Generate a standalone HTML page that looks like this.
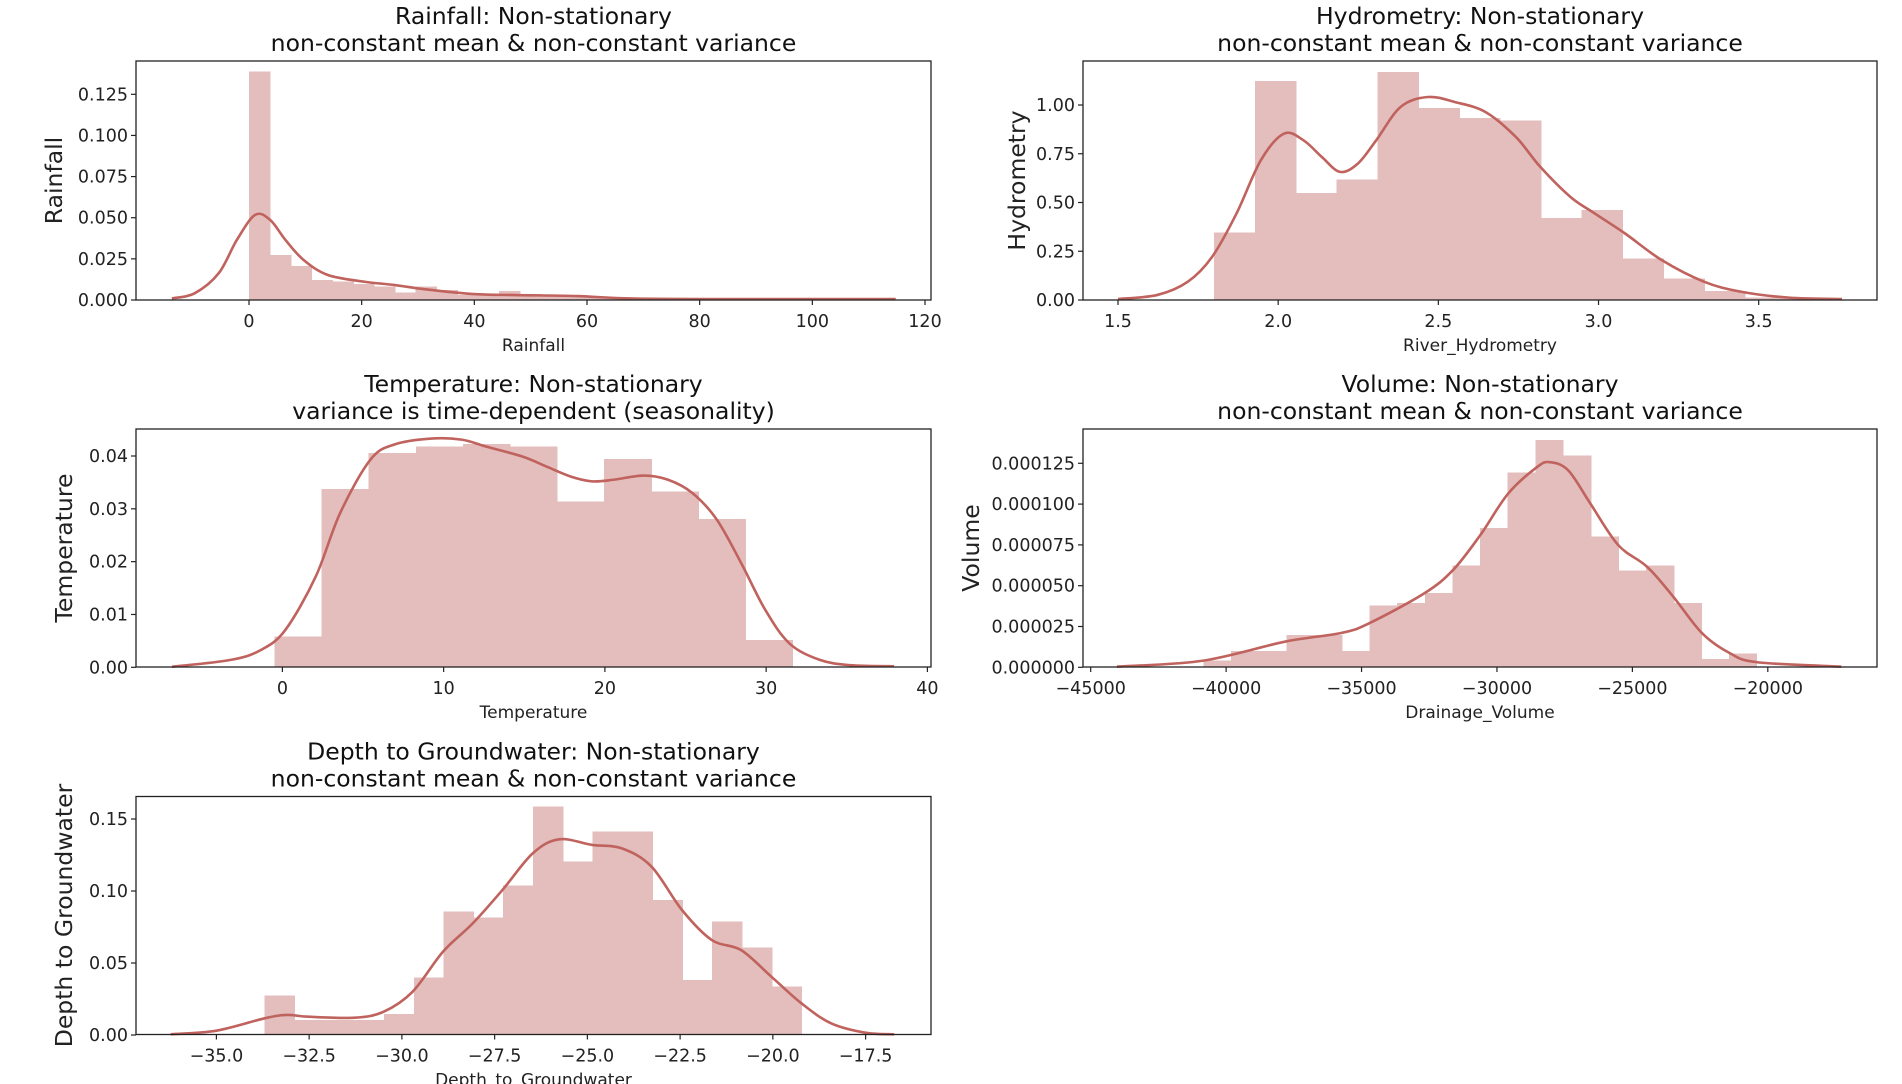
<!DOCTYPE html>
<html><head><meta charset="utf-8"><style>
html,body{margin:0;padding:0;background:#fff;}
svg{display:block;font-family:"DejaVu Sans","Liberation Sans",sans-serif;}
</style></head><body>
<svg id="fig" width="1902" height="1084" viewBox="0 0 1902 1084"></svg>
<script>
// ---- Rainfall ----
const rainBinStart = 0, rainBinWidth = 3.7;
const rainHist = [0.1388,0.0274,0.0207,0.0122,0.0111,0.0097,0.0081,0.0047,0.0081,0.006,0.003,0.004,0.0055,0.0036,0.003,0.002,0.0014,0.001,0.0009,0.0008,0.0008,0.0007,0.0007,0.0006,0.0006,0.0006,0.0006,0.0006,0.0006,0.0006,0.0006];
const rainKdeX = [-13.7,-9.7,-5.39,-2.16,1.08,3.77,6.47,9.7,14.0,20.5,25.9,31.3,39.9,47.4,58.2,66.8,79.8,114.8];
const rainKdeY = [0.001,0.004,0.0162,0.0365,0.0517,0.0486,0.0365,0.0243,0.0152,0.0111,0.0091,0.0065,0.0036,0.003,0.0024,0.001,0.0006,0.0006];
const rainXTicks = [0,20,40,60,80,100,120];
const rainXTickLabels = ["0","20","40","60","80","100","120"];
const rainYTicks = [0,0.025,0.05,0.075,0.1,0.125];
const rainYTickLabels = ["0.000","0.025","0.050","0.075","0.100","0.125"];
// ---- Hydrometry ----
const hydBinStart = 1.8, hydBinWidth = 0.1275;
const hydHist = [0.346,1.124,0.549,0.619,1.169,0.985,0.933,0.921,0.421,0.461,0.212,0.111,0.046,0.012,0.006];
const hydKdeX = [1.5,1.623,1.718,1.794,1.870,1.946,2.018,2.079,2.136,2.193,2.249,2.306,2.382,2.467,2.552,2.647,2.742,2.818,2.912,2.988,3.083,3.197,3.329,3.443,3.595,3.760];
const hydKdeY = [0.005,0.026,0.094,0.222,0.444,0.717,0.853,0.819,0.734,0.657,0.700,0.819,0.990,1.041,1.015,0.964,0.836,0.683,0.529,0.444,0.341,0.205,0.094,0.043,0.012,0.005];
const hydXTicks = [1.5,2.0,2.5,3.0,3.5];
const hydXTickLabels = ["1.5","2.0","2.5","3.0","3.5"];
const hydYTicks = [0,0.25,0.5,0.75,1.0];
const hydYTickLabels = ["0.00","0.25","0.50","0.75","1.00"];
// ---- Temperature ----
const tempBinStart = -0.49, tempBinWidth = 2.92;
const tempHist = [0.00587,0.0338,0.0406,0.0418,0.0423,0.0418,0.0314,0.0394,0.0333,0.0281,0.0052];
const tempKdeX = [-6.85,-3.2,-1.32,0.19,2.07,3.58,5.46,6.97,9.23,11.11,12.62,14.88,16.38,17.89,19.21,20.53,22.41,23.92,25.42,26.93,28.44,29.94,31.45,33.33,35.22,37.93];
const tempKdeY = [0.0001,0.0014,0.0033,0.0071,0.0172,0.0292,0.0393,0.0422,0.0433,0.0431,0.0418,0.0399,0.038,0.0361,0.0352,0.0355,0.0363,0.0355,0.033,0.028,0.0198,0.0109,0.0045,0.0014,0.0004,0.0002];
const tempXTicks = [0,10,20,30,40];
const tempXTickLabels = ["0","10","20","30","40"];
const tempYTicks = [0,0.01,0.02,0.03,0.04];
const tempYTickLabels = ["0.00","0.01","0.02","0.03","0.04"];
// ---- Volume ----
const volBinStart = -40833, volBinWidth = 1021;
const volHist = [0.0000041,0.00001,0.00001,0.0000197,0.0000197,0.00001,0.000038,0.0000395,0.0000456,0.0000623,0.0000853,0.0001195,0.0001393,0.0001297,0.00008,0.0000594,0.0000623,0.0000395,0.0000051,0.0000086];
const volKdeX = [-44031,-40833,-37829,-35756,-34729,-32694,-31628,-30620,-29593,-28527,-28043,-27364,-26550,-25523,-24457,-23488,-22422,-21395,-20388,-17287];
const volKdeY = [0.0000004,0.0000041,0.0000157,0.000021,0.0000269,0.0000452,0.0000595,0.0000809,0.0001063,0.0001226,0.0001257,0.0001206,0.0001003,0.0000749,0.0000616,0.0000432,0.0000208,0.0000086,0.0000031,0.0000004];
const volXTicks = [-45000,-40000,-35000,-30000,-25000,-20000];
const volXTickLabels = ["\u221245000","\u221240000","\u221235000","\u221230000","\u221225000","\u221220000"];
const volYTicks = [0,0.000025,0.00005,0.000075,0.0001,0.000125];
const volYTickLabels = ["0.000000","0.000025","0.000050","0.000075","0.000100","0.000125"];
// ---- Depth to Groundwater ----
const depBinStart = -33.70, depBinWidth = 0.804;
const depHist = [0.0275,0.0104,0.0104,0.0104,0.0146,0.0398,0.0856,0.0815,0.1037,0.1586,0.1204,0.1412,0.1412,0.0938,0.0382,0.0787,0.0609,0.0338];
const depKdeX = [-36.23,-35,-33.70,-33.10,-32.52,-31.27,-30.49,-29.71,-28.89,-28.09,-27.29,-26.47,-25.76,-24.87,-24.07,-23.27,-22.45,-21.65,-20.86,-20.04,-19.23,-18.43,-17.51,-16.73];
const depKdeY = [0.0005,0.003,0.0116,0.0139,0.0127,0.012,0.0162,0.0301,0.0579,0.0775,0.1007,0.1262,0.1359,0.132,0.1296,0.1169,0.0868,0.066,0.059,0.0405,0.022,0.0081,0.0016,0.0005];
const depXTicks = [-35,-32.5,-30,-27.5,-25,-22.5,-20,-17.5];
const depXTickLabels = ["\u221235.0","\u221232.5","\u221230.0","\u221227.5","\u221225.0","\u221222.5","\u221220.0","\u221217.5"];
const depYTicks = [0,0.05,0.10,0.15];
const depYTickLabels = ["0.00","0.05","0.10","0.15"];

const NS = "http://www.w3.org/2000/svg";
const svg = document.getElementById("fig");
function mk(tag, attrs, parent, text){
  const e = document.createElementNS(NS, tag);
  for (const k in attrs) e.setAttribute(k, attrs[k]);
  if (text !== undefined) e.textContent = text;
  (parent||svg).appendChild(e);
  return e;
}
function smoothPath(pts){
  let d = "M" + pts[0][0].toFixed(2) + "," + pts[0][1].toFixed(2);
  for (let i = 0; i < pts.length - 1; i++){
    const p0 = pts[Math.max(0, i - 1)], p1 = pts[i], p2 = pts[i + 1], p3 = pts[Math.min(pts.length - 1, i + 2)];
    const c1x = p1[0] + (p2[0] - p0[0]) / 6, c1y = p1[1] + (p2[1] - p0[1]) / 6;
    const c2x = p2[0] - (p3[0] - p1[0]) / 6, c2y = p2[1] - (p3[1] - p1[1]) / 6;
    d += "C" + c1x.toFixed(2) + "," + c1y.toFixed(2) + " " + c2x.toFixed(2) + "," + c2y.toFixed(2) + " " + p2[0].toFixed(2) + "," + p2[1].toFixed(2);
  }
  return d;
}
const TICK_FS = 17.5, TITLE_FS = 23.5, XL_FS = 17, YL_FS = 23.5;
function panel(o){
  const g = mk("g", {});
  
  
  const sx = v => o.px0 + (v - o.xv0) * (o.px1 - o.px0) / (o.xv1 - o.xv0);
  const sy = v => o.py0 + (v - o.yv0) * (o.py1 - o.py0) / (o.yv1 - o.yv0);
  const L = o.left, T = o.top, B = o.top + o.h;
  o.hist.forEach((h, i) => {
    const x0 = sx(o.binStart + i * o.binWidth), x1 = sx(o.binStart + (i + 1) * o.binWidth);
    const r = mk("rect", {x: x0, y: sy(h), width: x1 - x0 + 0.6, height: sy(0) - sy(h), fill: "#e3bebd", "shape-rendering": "crispEdges"}, g);
    
    
  });
  const pts = o.kdeX.map((x, i) => [sx(x), sy(o.kdeY[i])]);
  const p = mk("path", {d: smoothPath(pts), fill: "none", stroke: "#c0625d", "stroke-width": 2.6, "stroke-linejoin": "round"}, g);
  
  
  const f = mk("rect", {x: L, y: T, width: o.w, height: o.h, fill: "none", stroke: "#222", "stroke-width": 1.3}, g);
  
  
  o.xTicks.forEach((v, i) => {
    const x = sx(v);
    mk("line", {x1: x, x2: x, y1: B, y2: B + 5, stroke: "#222", "stroke-width": 1.2}, g);
    const t = mk("text", {x: x, y: B + 27, "text-anchor": "middle", "font-size": TICK_FS, fill: "#222"}, g, o.xLabels[i]);
    
    
  });
  o.yTicks.forEach((v, i) => {
    const y = sy(v);
    mk("line", {x1: L - 5, x2: L, y1: y, y2: y, stroke: "#222", "stroke-width": 1.2}, g);
    const t = mk("text", {x: L - 8, y: y + 6, "text-anchor": "end", "font-size": TICK_FS, fill: "#222"}, g, o.yLabels[i]);
    
    
  });
  const xl = mk("text", {x: L + o.w / 2, y: B + 51, "text-anchor": "middle", "font-size": XL_FS, fill: "#222"}, g, o.xTitle);
  
  
  const yl = mk("text", {x: 0, y: 0, "text-anchor": "middle", "font-size": YL_FS, fill: "#222", transform: "translate(" + o.yTitleX + "," + (T + o.h / 2) + ") rotate(-90)"}, g, o.yTitle);
  
  
  const t1 = mk("text", {x: L + o.w / 2, y: T - 37, "text-anchor": "middle", "font-size": TITLE_FS, fill: "#111"}, g, o.title1);
  
  
  const t2 = mk("text", {x: L + o.w / 2, y: T - 10, "text-anchor": "middle", "font-size": TITLE_FS, fill: "#111"}, g, o.title2);
  
  
}
const LC = 136, RC = 1083, W = 795, H = 239;
panel({name:"rainfall", left:LC, top:61, w:W, h:H, px0:249, px1:925, xv0:0, xv1:120, py0:300, py1:94.3, yv0:0, yv1:0.125,
  hist:rainHist, binStart:rainBinStart, binWidth:rainBinWidth, kdeX:rainKdeX, kdeY:rainKdeY,
  xTicks:rainXTicks, xLabels:rainXTickLabels, yTicks:rainYTicks, yLabels:rainYTickLabels,
  xTitle:"Rainfall", yTitle:"Rainfall", yTitleX:62, title1:"Rainfall: Non-stationary", title2:"non-constant mean & non-constant variance"});
panel({name:"hydrometry", left:RC, top:61, w:W-1, h:H, px0:1118, px1:1758.7, xv0:1.5, xv1:3.5, py0:300, py1:105, yv0:0, yv1:1.0,
  hist:hydHist, binStart:hydBinStart, binWidth:hydBinWidth, kdeX:hydKdeX, kdeY:hydKdeY,
  xTicks:hydXTicks, xLabels:hydXTickLabels, yTicks:hydYTicks, yLabels:hydYTickLabels,
  xTitle:"River_Hydrometry", yTitle:"Hydrometry", yTitleX:1025, title1:"Hydrometry: Non-stationary", title2:"non-constant mean & non-constant variance"});
panel({name:"temperature", left:LC, top:429, w:W, h:H-1, px0:282.4, px1:927.4, xv0:0, xv1:40, py0:667.3, py1:456, yv0:0, yv1:0.04,
  hist:tempHist, binStart:tempBinStart, binWidth:tempBinWidth, kdeX:tempKdeX, kdeY:tempKdeY,
  xTicks:tempXTicks, xLabels:tempXTickLabels, yTicks:tempYTicks, yLabels:tempYTickLabels,
  xTitle:"Temperature", yTitle:"Temperature", yTitleX:72, title1:"Temperature: Non-stationary", title2:"variance is time-dependent (seasonality)"});
panel({name:"volume", left:RC, top:429, w:W-1, h:H-1, px0:1090.7, px1:1767.8, xv0:-45000, xv1:-20000, py0:667.3, py1:463.3, yv0:0, yv1:0.000125,
  hist:volHist, binStart:volBinStart, binWidth:volBinWidth, kdeX:volKdeX, kdeY:volKdeY,
  xTicks:volXTicks, xLabels:volXTickLabels, yTicks:volYTicks, yLabels:volYTickLabels,
  xTitle:"Drainage_Volume", yTitle:"Volume", yTitleX:979, title1:"Volume: Non-stationary", title2:"non-constant mean & non-constant variance"});
panel({name:"depth-to-groundwater", left:LC, top:796.5, w:W, h:H-1, px0:216.4, px1:865.6, xv0:-35, xv1:-17.5, py0:1035, py1:819, yv0:0, yv1:0.15,
  hist:depHist, binStart:depBinStart, binWidth:depBinWidth, kdeX:depKdeX, kdeY:depKdeY,
  xTicks:depXTicks, xLabels:depXTickLabels, yTicks:depYTicks, yLabels:depYTickLabels,
  xTitle:"Depth_to_Groundwater", yTitle:"Depth to Groundwater", yTitleX:72, title1:"Depth to Groundwater: Non-stationary", title2:"non-constant mean & non-constant variance"});
</script>
</body></html>
